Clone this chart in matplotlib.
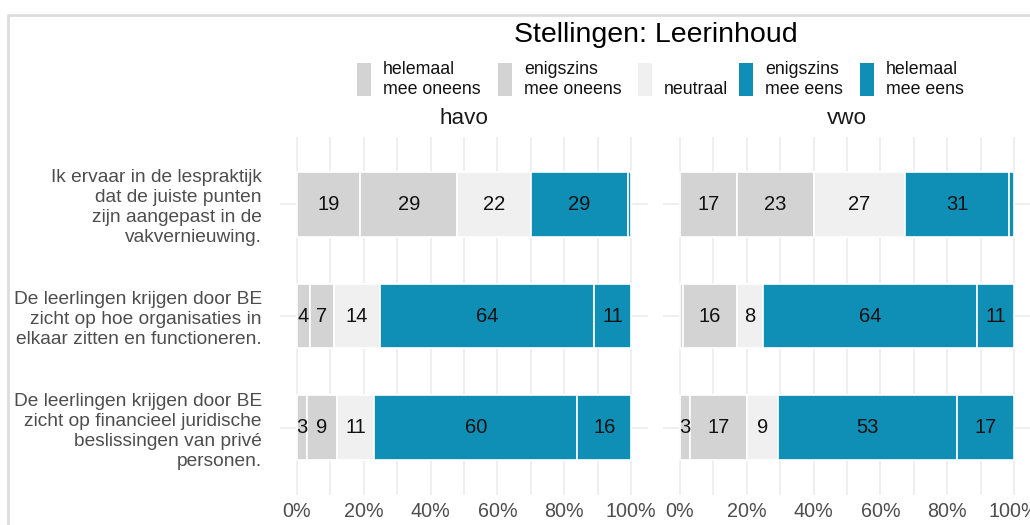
import matplotlib
matplotlib.use("Agg")
import matplotlib.pyplot as plt
from matplotlib.patches import Rectangle
from matplotlib.lines import Line2D
import numpy as np

plt.rcParams['font.family'] = ['Liberation Sans', 'DejaVu Sans']

W, H = 1030, 525

# ── data ──────────────────────────────────────────────────────────────────────
statements = [
    'Ik ervaar in de lespraktijk\ndat de juiste punten\nzijn aangepast in de\nvakvernieuwing.',
    'De leerlingen krijgen door BE\nzicht op hoe organisaties in\nelkaar zitten en functioneren.',
    'De leerlingen krijgen door BE\nzicht op financieel juridische\nbeslissingen van privé\npersonen.',
]
levels = ['helemaal\nmee oneens', 'enigszins\nmee oneens', 'neutraal',
          'enigszins\nmee eens', 'helemaal\nmee eens']
level_colors = ['#D3D3D3', '#D3D3D3', '#F0F0F0', '#0F8FB6', '#0F8FB6']
groups = ['havo', 'vwo']

havo_pct = [
    [19, 29, 22, 29, 1],
    [4, 7, 14, 64, 11],
    [3, 9, 11, 60, 16],
]
vwo_pct = [
    [17, 23, 27, 31, 1.5],
    [1, 16, 8, 64, 11],
    [3, 17, 9, 53, 17],
]
xticks = [0, 20, 40, 60, 80, 100]
xtick_labels = ['0%', '20%', '40%', '60%', '80%', '100%']

GRID = '#EBEBEB'
TXT_AX = '#4D4D4D'


def fx(px):
    return px / W


def fy(py):
    return 1 - py / H


fig = plt.figure(figsize=(W / 100, H / 100), dpi=100)
fig.patch.set_facecolor('white')

panel_left = [280, 663]
panel_w = 368
panel_top, panel_bot = 137, 495

for gi, (grp, data) in enumerate(zip(groups, [havo_pct, vwo_pct])):
    ax = fig.add_axes([fx(panel_left[gi]), fy(panel_bot), fx(panel_w),
                       (panel_bot - panel_top) / H])
    ax.set_xlim(-5, 105)
    ax.set_ylim(3.6, 0.4)
    for s in ax.spines.values():
        s.set_visible(False)
    # grid
    for gx in range(0, 101, 10):
        ax.axvline(gx, color=GRID, lw=1.1, zorder=0)
    ypos = np.arange(1, len(statements) + 1)
    for yy in ypos:
        ax.axhline(yy, color=GRID, lw=1.1, zorder=0)

    arr = np.array(data, dtype=float)
    shares = arr / arr.sum(axis=1, keepdims=True) * 100
    left = np.zeros(len(statements))
    for li in range(len(levels)):
        ax.barh(ypos, shares[:, li], left=left, height=0.58,
                color=level_colors[li], edgecolor='white', linewidth=1.2,
                zorder=2)
        for ri in range(len(statements)):
            v = arr[ri, li]
            if v >= 3:
                ax.text(left[ri] + shares[ri, li] / 2, ypos[ri], f'{v:.0f}',
                        ha='center', va='center', fontsize=14.5,
                        color='#111111', zorder=3)
        left += shares[:, li]

    ax.set_xticks(xticks)
    ax.set_xticklabels(xtick_labels, fontsize=14.2, color=TXT_AX)
    ax.tick_params(axis='x', length=0, pad=5)
    ax.set_yticks(ypos)
    if gi == 0:
        ax.set_yticklabels(statements, fontsize=13.8, color=TXT_AX,
                           linespacing=1.24)
        ax.tick_params(axis='y', length=0, pad=13)
    else:
        ax.set_yticklabels([])
        ax.tick_params(axis='y', length=0)

    fig.text(fx(panel_left[gi] + panel_w / 2), fy(119), grp,
             ha='center', va='center', fontsize=16.2, color='#1A1A1A')

# title
fig.text(fx(656), fy(35), 'Stellingen: Leerinhoud', ha='center',
         va='center', fontsize=20.5, color='black')

# legend
key_x = [357, 498, 638, 739, 860]
for kx, lab, col in zip(key_x, levels, level_colors):
    fig.patches.append(Rectangle((fx(kx), fy(96)), fx(14), 33 / H,
                                 transform=fig.transFigure,
                                 facecolor=col, edgecolor='none'))
    ty = 79.5 if '\n' in lab else 89
    fig.text(fx(kx + 26), fy(ty), lab, ha='left', va='center',
             fontsize=12.8, color='#111111', linespacing=1.2)

# frame of the cropped screenshot
fig.add_artist(Line2D([fx(8), fx(8), 1], [0, fy(15), fy(15)],
                      transform=fig.transFigure, color='#DDDDDD', lw=2))

fig.savefig('out.png', dpi=100, facecolor='white')
